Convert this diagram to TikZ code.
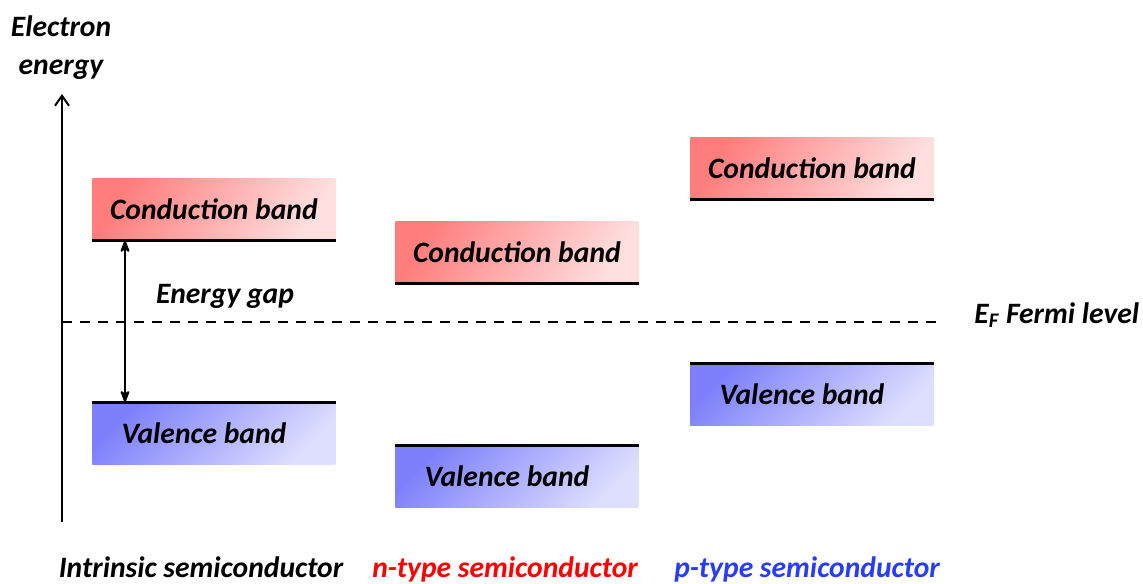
\documentclass[tikz,border=0pt]{standalone}
\usepackage{fontspec}
\setmainfont{Carlito}
\usetikzlibrary{positioning,arrows.meta}
\definecolor{cbdark}{RGB}{255,125,125}
\definecolor{cblight}{RGB}{255,222,222}
\definecolor{vbdark}{RGB}{125,128,250}
\definecolor{vblight}{RGB}{222,222,255}
\definecolor{ptype}{RGB}{40,60,255}
\tikzset{
    >=Stealth[round],
    lbl/.style = {font=\bfseries\itshape\fontsize{14.8}{19}\selectfont, inner sep=0pt},
    band/.style = {lbl, minimum width=121.5pt, minimum height=31pt, anchor=north west},
    cband/.style = {band, left color=cbdark, right color=cblight, shading angle=60},
    vband/.style = {band, left color=vbdark, right color=vblight, shading angle=45},
    edge/.style = {line width=1.5pt},
}

\begin{document}
\begin{tikzpicture}[x=0.5pt, y=-0.5pt]
    \useasboundingbox (0,0) rectangle (1143,583);

    % energy axis
    \node (ylab) [lbl, align=center] at (61,48) {Electron\\energy};
    \coordinate (ybot) at (62,522);
    \coordinate (ytop) at (62,94);
    \draw [-{Straight Barb[length=5pt, width=7pt]}, line width=1pt] (ybot) -- (ytop);

    % bands
    \node (icb) [cband] at (92,178) {Conduction band};
    \node (ivb) [vband, label={[lbl, xshift=-5pt]center:Valence band}] at (92,402) {};
    \node (ncb) [cband] at (395,221) {Conduction band};
    \node (nvb) [vband, label={[lbl, xshift=-5pt]center:Valence band}] at (395,445) {};
    \node (pcb) [cband] at (690,137) {Conduction band};
    \node (pvb) [vband, label={[lbl, xshift=-5pt]center:Valence band}] at (690,363) {};

    \foreach \b in {icb, ncb, pcb}
        \draw [edge] (\b.south west) -- (\b.south east);
    \foreach \b in {ivb, nvb, pvb}
        \draw [edge] (\b.north west) -- (\b.north east);

    % gap and Fermi level
    \coordinate (gx) at (125,0);
    \draw [<->, line width=1pt] (icb.south -| gx) -- (ivb.north -| gx);
    \node (gap) [lbl] at (225,296) {Energy gap};

    \coordinate (fend) at (940,322);
    \draw [dashed, dash pattern=on 5pt off 4pt, line width=1pt] (fend -| ybot) -- (fend);
    \node (fermi) [lbl, anchor=base west] at (974,323) {E\textsubscript{F} Fermi level};

    % captions
    \node (itxt) [lbl, anchor=base] at (201,577) {Intrinsic semiconductor};
    \node (ntxt) [lbl, anchor=base, text=red] at (505,577) {n-type semiconductor};
    \node (ptxt) [lbl, anchor=base, text=ptype] at (807,577) {p-type semiconductor};
\end{tikzpicture}
\end{document}
